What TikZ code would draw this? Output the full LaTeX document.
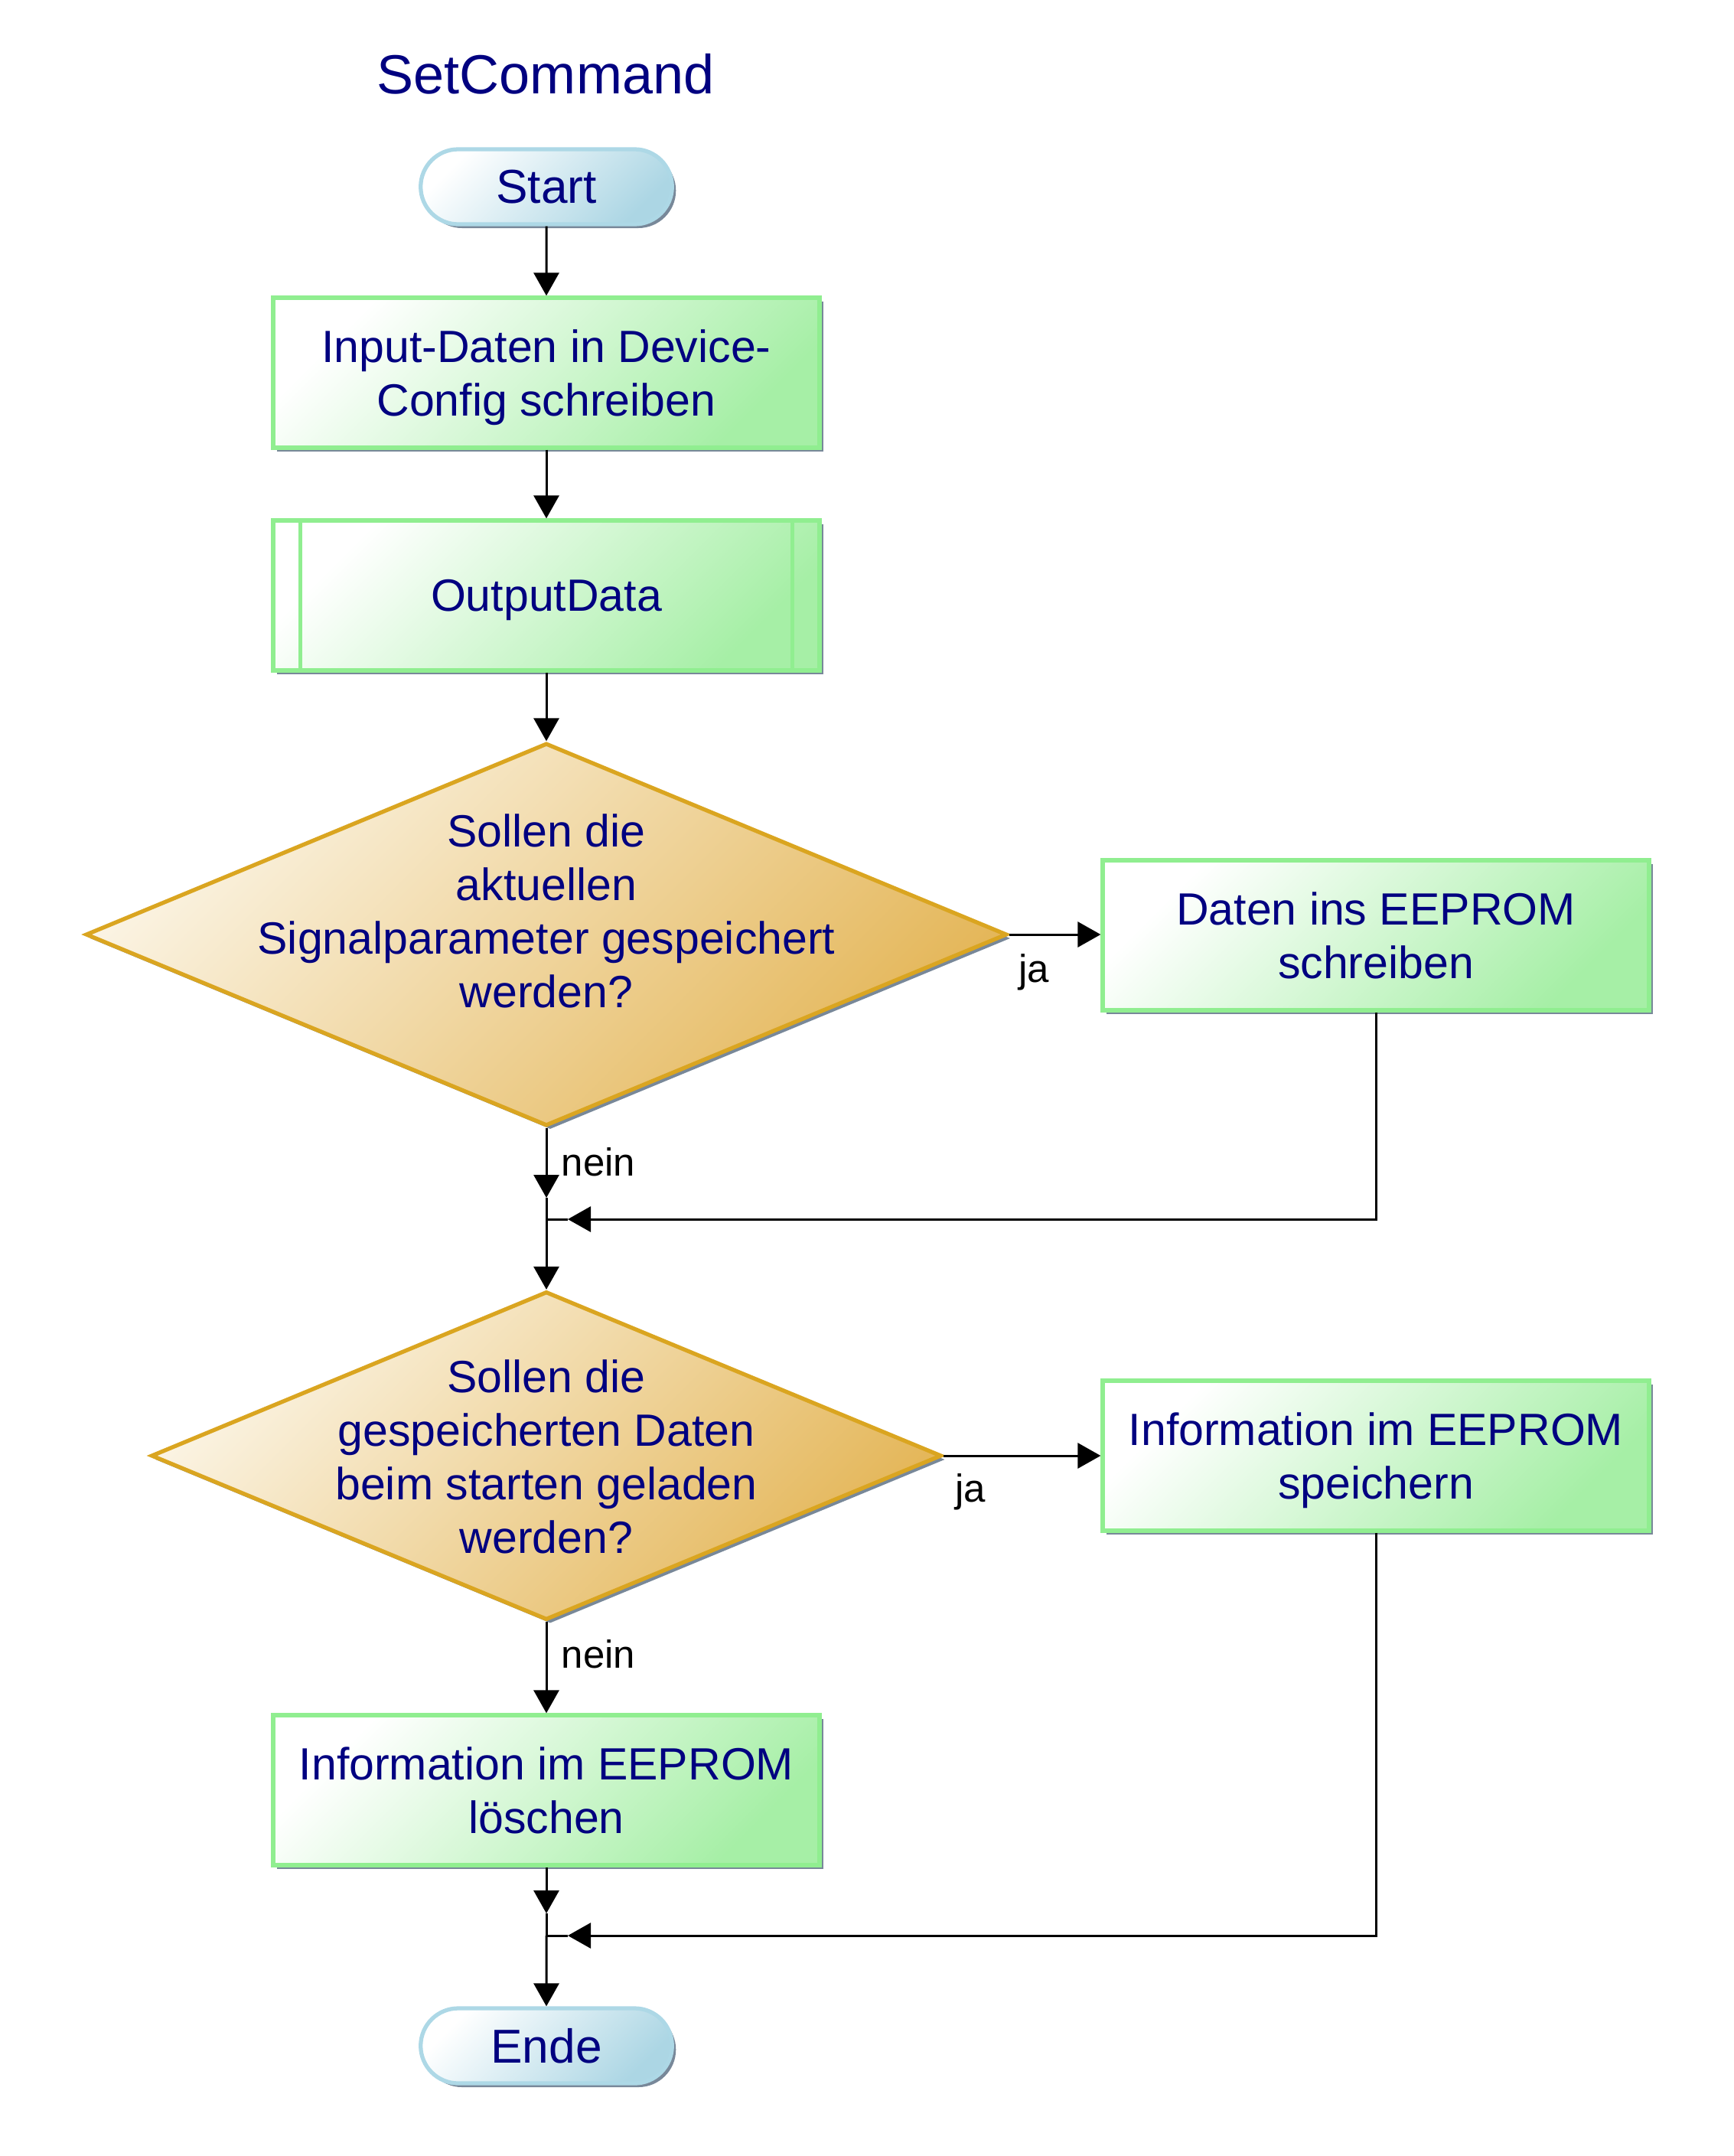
\documentclass[tikz,border=0pt]{standalone}
\usepackage{fontspec}
\setmainfont{Liberation Sans}
\usetikzlibrary{shapes.geometric,shapes.misc,shadows,arrows.meta}

\definecolor{txtblue}{RGB}{0,0,128}
\definecolor{termline}{RGB}{173,216,230}
\definecolor{termfill}{RGB}{172,214,228}
\definecolor{boxline}{RGB}{144,238,144}
\definecolor{boxfill}{RGB}{150,236,150}
\definecolor{qline}{RGB}{218,165,32}
\definecolor{qlight}{RGB}{251,244,228}
\definecolor{qdark}{RGB}{228,182,88}
\definecolor{shadowgray}{RGB}{120,136,153}

\begin{document}
\begin{tikzpicture}
\tikzstyle{dshadow}=[drop shadow={shadow xshift=0.05cm,shadow yshift=-0.05cm,fill=shadowgray,opacity=1}]
\tikzstyle{term}=[rounded rectangle,draw=termline,line width=1.5pt,top color=white,bottom color=termfill,shading angle=45,minimum width=3.52cm,minimum height=0.98cm,text=txtblue,font=\fontsize{17.7}{21}\selectfont,dshadow]
\tikzstyle{proc}=[rectangle,draw=boxline,line width=1.5pt,top color=white,bottom color=boxfill!85!white,shading angle=45,minimum width=7.14cm,minimum height=1.96cm,text=txtblue,align=center,text depth=0pt,font=\fontsize{16.8}{19.9}\selectfont,dshadow]
\tikzstyle{quest}=[diamond,draw=qline,line width=1.5pt,top color=qlight,bottom color=qdark,shading angle=45,inner sep=0pt,dshadow]
\tikzstyle{qtext}=[text=txtblue,align=center,font=\fontsize{16.8}{19.9}\selectfont]
\tikzstyle{lbl}=[font=\fontsize{14.5}{17}\selectfont]
\tikzstyle{flow}=[line width=0.85pt,-{Triangle[length=3mm,width=3.3mm]}]
\tikzstyle{plain}=[line width=0.85pt]

\useasboundingbox (0,0) rectangle (22.66,-28.17);

\node[text=txtblue,font=\fontsize{20.5}{24}\selectfont] (t0) at (7.13,-0.97) {SetCommand};

\node[term] (s1) at (7.14,-2.44) {Start};
\node[proc] (p1) at (7.14,-4.87) {Input-Daten in Device-\\Config schreiben};
\node[proc] (p2) at (7.14,-7.78) {OutputData};
\draw[draw=boxline,line width=1.5pt] ([xshift=0.38cm]p2.north west) -- ([xshift=0.38cm]p2.south west);
\draw[draw=boxline,line width=1.5pt] ([xshift=-0.38cm]p2.north east) -- ([xshift=-0.38cm]p2.south east);

\node[quest,minimum width=12.04cm,minimum height=5cm] (q1) at (7.14,-12.21) {};
\node[qtext] (q1t) at (7.14,-11.90) {Sollen die\\aktuellen\\Signalparameter gespeichert\\werden?};
\node[proc] (r1) at (17.98,-12.22) {Daten ins EEPROM\\schreiben};

\node[quest,minimum width=10.33cm,minimum height=4.29cm] (q2) at (7.14,-19.02) {};
\node[qtext] (q2t) at (7.14,-19.03) {Sollen die\\gespeicherten Daten\\beim starten geladen\\werden?};
\node[proc] (r2) at (17.98,-19.02) {Information im EEPROM\\speichern};

\node[proc] (p3) at (7.14,-23.39) {Information im EEPROM\\löschen};
\node[term] (e1) at (7.14,-26.73) {Ende};

\node[lbl] (ja1) at (13.51,-12.70) {ja};
\node[lbl] (ja2) at (12.68,-19.49) {ja};
\node[lbl] (nein1) at (7.82,-15.18) {nein};
\node[lbl] (nein2) at (7.82,-21.61) {nein};

\coordinate (j1) at (7.14,-15.93);
\coordinate (a1) at (7.14,-15.65);
\coordinate (h1) at (7.42,-15.93);
\coordinate (j2) at (7.14,-25.29);
\coordinate (a2) at (7.14,-25.00);
\coordinate (h2) at (7.42,-25.29);

\draw[flow] (s1) -- (p1);
\draw[flow] (p1) -- (p2);
\draw[flow] (p2) -- (q1);
\draw[flow] (q1.east) -- (q1.east -| r1.west);
\draw[flow] (q1) -- (a1);
\draw[plain] (a1) -- (j1);
\draw[flow] (r1) |- (h1);
\draw[plain] (h1) -- (j1);
\draw[flow] (j1) -- (q2);
\draw[flow] (q2.east) -- (q2.east -| r2.west);
\draw[flow] (q2) -- (p3);
\draw[flow] (p3) -- (a2);
\draw[plain] (a2) -- (j2);
\draw[flow] (r2) |- (h2);
\draw[plain] (h2) -- (j2);
\draw[flow] (j2) -- (e1);

\end{tikzpicture}
\end{document}
